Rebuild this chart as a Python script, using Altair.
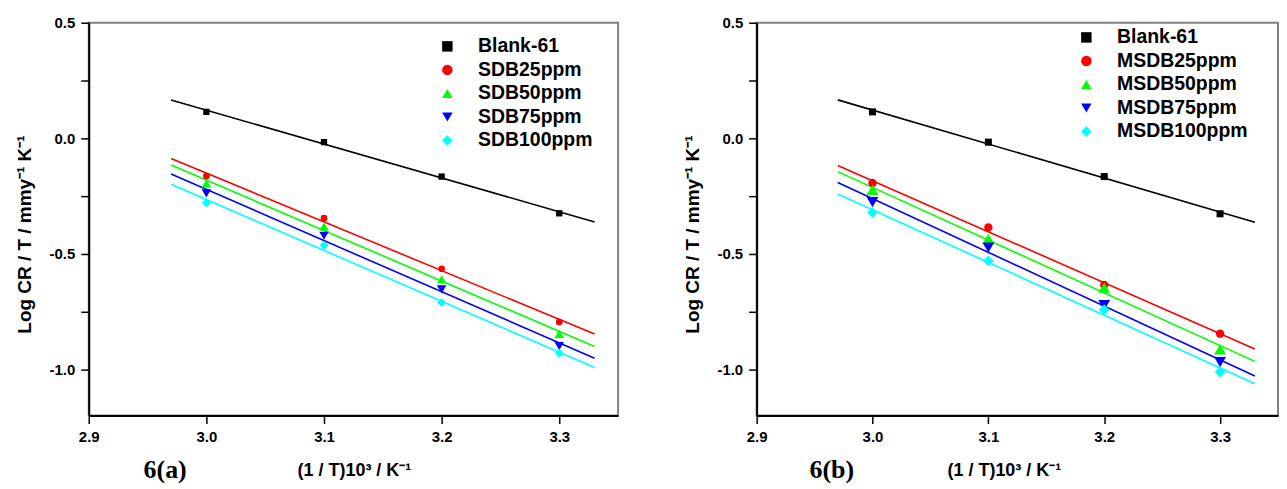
import json
import altair as alt
import pandas as pd

# ---------------- data ----------------
x_values = [3.0, 3.1, 3.2, 3.3]

series_a = ["Blank-61", "SDB25ppm", "SDB50ppm", "SDB75ppm", "SDB100ppm"]
blank_a = [0.114, -0.017, -0.166, -0.325]
sdb25 = [-0.164, -0.346, -0.565, -0.795]
sdb50 = [-0.196, -0.382, -0.611, -0.847]
sdb75 = [-0.239, -0.422, -0.654, -0.900]
sdb100 = [-0.279, -0.463, -0.711, -0.931]

series_b = ["Blank-61", "MSDB25ppm", "MSDB50ppm", "MSDB75ppm", "MSDB100ppm"]
blank_b = [0.114, -0.017, -0.166, -0.327]
msdb25 = [-0.194, -0.386, -0.635, -0.846]
msdb50 = [-0.224, -0.436, -0.647, -0.914]
msdb75 = [-0.277, -0.473, -0.722, -0.969]
msdb100 = [-0.322, -0.531, -0.742, -1.012]

x_ticks = [2.9, 3.0, 3.1, 3.2, 3.3]
y_ticks = [-1.0, -0.75, -0.5, -0.25, 0.0, 0.25, 0.5]
x_domain = [2.9, 3.35]
y_domain = [-1.2, 0.5]
fit_extent = [2.97, 3.33]

colors = ["#000000", "#ff0000", "#00ff00", "#0000ff", "#00ffff"]
shapes = ["square", "circle", "triangle-up", "triangle-down", "diamond"]

x_title = "(1 / T)10³ / K⁻¹"
y_title = "Log  CR / T  / mmy⁻¹ K⁻¹"
panel_labels = ["6(a)", "6(b)"]

FONT = "Liberation Sans"


def make_panel(names, values, label, width, legend_x, legend_y, sizes, label_x, xtitle_x):
    rows = []
    for name, vals in zip(names, values):
        for xv, yv in zip(x_values, vals):
            rows.append({"series": name, "x": xv, "y": yv})
    df = pd.DataFrame(rows)

    xenc = alt.X(
        "x:Q",
        scale=alt.Scale(domain=x_domain, nice=False, zero=False),
        axis=alt.Axis(
            values=x_ticks, format=".1f", title=x_title,
            labelFlush=False, labelOverlap=False,
            labelPadding=6, titlePadding=17, titleFontSize=18, titleX=xtitle_x,
        ),
    )
    yenc = alt.Y(
        "y:Q",
        scale=alt.Scale(domain=y_domain, nice=False, zero=False),
        axis=alt.Axis(
            values=y_ticks, title=y_title, labelOverlap=False,
            labelExpr="abs(datum.value % 0.5) < 1e-9 ? replace(format(datum.value, '.1f'), '\u2212', '-') : ''",
            labelPadding=6, titlePadding=16, minExtent=38, maxExtent=38,
            titleFontSize=19, titleY=212,
        ),
    )

    legend = alt.Legend(
        title=None, orient="none", legendX=legend_x, legendY=legend_y,
        labelFont=FONT, labelFontSize=19.5, labelFontWeight="bold", labelColor="#000000",
        symbolSize=110, symbolStrokeWidth=0, rowPadding=2.6, labelOffset=21, padding=0,
    )

    base = alt.Chart(df)
    lines = base.transform_regression(
        "x", "y", groupby=["series"], extent=fit_extent
    ).transform_calculate(
        line_series="datum.series"
    ).mark_line(strokeWidth=1.6).encode(
        x=xenc, y=yenc,
        stroke=alt.Stroke("line_series:N", sort=names, scale=alt.Scale(range=colors), legend=None),
    )
    points = base.transform_calculate(
        size_key="indexof(" + json.dumps(names) + ", datum.series)"
    ).mark_point(filled=True, opacity=1).encode(
        x=xenc, y=yenc,
        color=alt.Color("series:N", scale=alt.Scale(domain=names, range=colors), legend=legend),
        shape=alt.Shape("series:N", scale=alt.Scale(domain=names, range=shapes), legend=legend),
        size=alt.Size(
            "size_key:Q",
            scale=alt.Scale(type="threshold", domain=[0.5, 1.5, 2.5, 3.5], range=sizes),
            legend=None,
        ),
    )
    tag = alt.Chart(pd.DataFrame({"t": [label]})).mark_text(
        font="Liberation Serif", fontWeight="bold", fontSize=26,
        align="left", baseline="middle", color="#000000",
    ).encode(text="t:N", x=alt.value(label_x), y=alt.value(449))

    return alt.layer(lines, points, tag).properties(width=width, height=394)


panel_a = make_panel(
    series_a, [blank_a, sdb25, sdb50, sdb75, sdb100], panel_labels[0],
    531, 350, 14, [40, 45, 90, 90, 80], 55, 266,
)
panel_b = make_panel(
    series_b, [blank_b, msdb25, msdb50, msdb75, msdb100], panel_labels[1],
    523, 321, 5, [50, 70, 140, 140, 120], 53, 248,
)

chart = alt.hconcat(panel_a, panel_b, spacing=64).resolve_scale(
    color="independent", shape="independent", size="independent", stroke="independent",
).resolve_legend(
    color="independent", shape="independent", size="independent", stroke="independent",
).properties(
    padding={"left": 7, "top": 6, "right": 0, "bottom": 0},
    background="#ffffff",
).configure_view(
    stroke="#808080", strokeWidth=2,
).configure_axis(
    labelFont=FONT, labelFontSize=15, labelFontWeight="bold", labelColor="#000000",
    titleFont=FONT, titleFontSize=17, titleFontWeight="bold", titleColor="#000000",
    domainColor="#000000", domainWidth=2, tickColor="#000000", tickWidth=1.5,
    tickSize=8, grid=False,
)

chart.save("out.html", embed_options={"renderer": "svg", "actions": False})
